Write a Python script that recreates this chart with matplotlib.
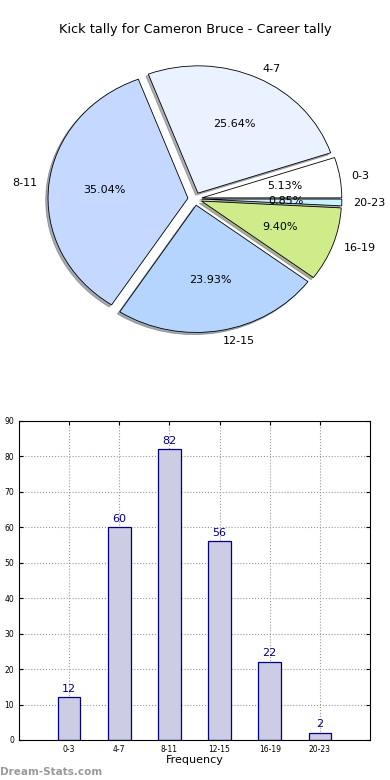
import matplotlib
matplotlib.use("Agg")
import matplotlib.pyplot as plt

categories = ["0-3", "4-7", "8-11", "12-15", "16-19", "20-23"]
counts = [12, 60, 82, 56, 22, 2]
pie_colors = ["#ffffff", "#eaf1ff", "#c5d8ff", "#b5d5ff", "#d0eb8a", "#c8f2ff"]
title = "Kick tally for Cameron Bruce - Career tally"

fig = plt.figure(figsize=(3.9, 7.8), dpi=100)

# pie (old style, not forced to equal aspect)
ax1 = fig.add_axes([0.0513, 0.541, 0.897, 0.408])
wedges, texts, autotexts = ax1.pie(counts, labels=categories, colors=pie_colors,
                                   explode=[0.05] * len(counts), autopct="%1.2f%%",
                                   shadow={"ox": -0.012, "oy": -0.012, "shade": 0.6},
                                   startangle=0, labeldistance=1.08,
                                   wedgeprops=dict(edgecolor="black", linewidth=0.6),
                                   textprops=dict(fontsize=8))
ax1.set_aspect("auto")
ax1.set_xlim(-1.25, 1.25)
ax1.set_ylim(-1.25, 1.25)
ax1.axis("off")
fig.text(0.5, 1 - 30 / 780, title, ha="center", va="center", fontsize=9.3)

# bar chart
ax2 = fig.add_axes([0.0487, 0.0513, 0.9, 0.409])
x = range(len(categories))
bars = ax2.bar(x, counts, width=0.45, color="#ccccE5", edgecolor="navy", linewidth=0.9, zorder=2)
for xi, c in zip(x, counts):
    ax2.text(xi, c + 1, str(c), ha="center", va="bottom", color="navy", fontsize=8, zorder=3)
ax2.set_xlim(-1, 6)
ax2.set_ylim(0, 90)
ax2.set_xticks(list(x))
ax2.set_xticklabels(categories)
ax2.set_yticks(range(0, 91, 10))
ax2.tick_params(labelsize=5.5, direction="in", top=True, right=True, length=3)
ax2.grid(True, linestyle=":", color="#999999", linewidth=0.8, zorder=0)
ax2.set_axisbelow(True)
ax2.set_xlabel("Frequency", fontsize=8, labelpad=1)

fig.text(0.0, 0.004, "Dream-Stats.com", color="#999999", fontsize=7.5, fontweight="bold", ha="left", va="bottom")

fig.savefig("out.png", dpi=100)
